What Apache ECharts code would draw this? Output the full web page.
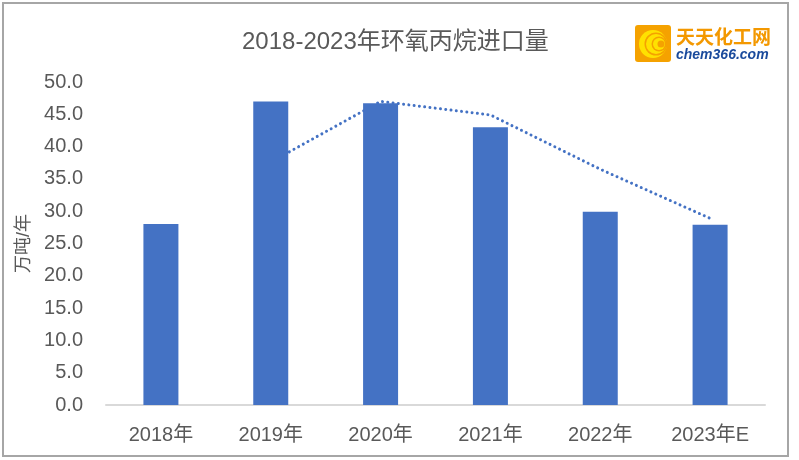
<!DOCTYPE html>
<html>
<head>
<meta charset="utf-8">
<script src="https://cdn.jsdelivr.net/npm/echarts@6/dist/echarts.min.js"></script>
<style>
html,body{margin:0;padding:0;background:#fff;}
#c{width:799px;height:460px;}
</style>
</head>
<body>
<div id="c"></div>
<script>
var categories = ['2018年', '2019年', '2020年', '2021年', '2022年', '2023年E'];
var importVolume = [28.0, 47.0, 46.7, 43.0, 29.9, 27.9];
var trendValues = [null, 37.6, 47.0, 44.9, 36.5, 28.9];
var titleText = '2018-2023年环氧丙烷进口量';
var yAxisName = '万吨/年';

var FONT = '"Liberation Sans", Arial, "Noto Sans CJK SC", sans-serif';
var chart = echarts.init(document.getElementById('c'), null, {renderer: 'canvas'});
chart.setOption({
  backgroundColor: '#ffffff',
  animation: false,
  title: {
    text: titleText,
    left: 237,
    top: 25,
    textStyle: {fontFamily: FONT, fontSize: 24, fontWeight: 'normal', color: '#595959'}
  },
  grid: {left: 106, right: 34, top: 82, bottom: 55, containLabel: false},
  xAxis: {
    type: 'category',
    data: categories,
    axisLine: {show: true, lineStyle: {color: '#D9D9D9', width: 2}},
    axisTick: {show: false},
    axisLabel: {fontFamily: FONT, fontSize: 20, color: '#595959', margin: 20}
  },
  yAxis: {
    type: 'value',
    min: 0, max: 50, interval: 5,
    name: yAxisName,
    nameLocation: 'middle',
    nameGap: 70,
    nameRotate: 90,
    nameTextStyle: {fontFamily: FONT, fontSize: 18, color: '#595959'},
    axisLine: {show: false},
    axisTick: {show: false},
    splitLine: {show: false},
    axisLabel: {fontFamily: FONT, fontSize: 20, color: '#595959', margin: 23,
      formatter: function (v) { return v.toFixed(1); }}
  },
  series: [
    {
      type: 'line',
      data: trendValues,
      z: 1,
      showSymbol: false,
      symbol: 'none',
      connectNulls: false,
      lineStyle: {color: '#4472C4', width: 3, type: [0.01, 5.3], cap: 'round'},
      silent: true
    },
    {
      type: 'bar',
      data: importVolume,
      z: 3,
      barWidth: 35,
      itemStyle: {color: '#4472C4'}
    }
  ],
  graphic: [
    {type: 'rect', shape: {x: 3, y: 3, width: 785, height: 453}, style: {fill: 'none', stroke: '#A6A6A6', lineWidth: 2}, silent: true},
    {type: 'rect', shape: {x: 635, y: 25, width: 36, height: 37, r: 3}, style: {fill: '#F5A200'}},
    {type: 'circle', shape: {cx: 653, cy: 44, r: 14}, style: {fill: '#FFE100'}},
    {type: 'circle', shape: {cx: 656, cy: 44, r: 11.5}, style: {fill: '#F5A200'}},
    {type: 'circle', shape: {cx: 656, cy: 44, r: 10}, style: {fill: '#FFE100'}},
    {type: 'circle', shape: {cx: 659, cy: 44, r: 7.5}, style: {fill: '#F5A200'}},
    {type: 'circle', shape: {cx: 659, cy: 44, r: 6}, style: {fill: '#FFE100'}},
    {type: 'circle', shape: {cx: 661, cy: 44, r: 3.5}, style: {fill: '#F5A200'}},
    {type: 'text', left: 676, top: 27, style: {text: '天天化工网', fill: '#F39800', font: 'bold 19px "Noto Sans CJK SC", sans-serif'}},
    {type: 'text', left: 676, top: 48, style: {text: 'chem366.com', fill: '#1A4A9C', font: 'italic bold 14px "Liberation Sans", Arial, sans-serif'}}
  ]
});
</script>
</body>
</html>
